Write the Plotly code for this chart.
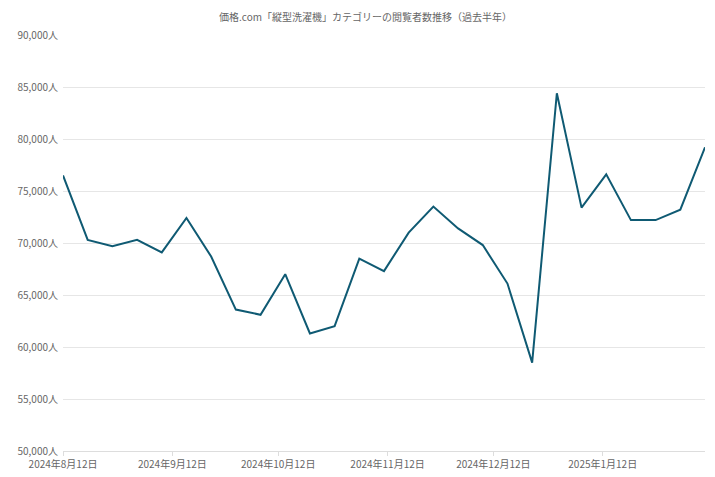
import plotly.graph_objects as go
import pandas as pd

dates = [d.strftime("%Y-%m-%d") for d in pd.date_range("2024-08-12", periods=27, freq="7D")]
values = [76500, 70300, 69700, 70300, 69100, 72400, 68700, 63600, 63100, 67000,
          61300, 62000, 68500, 67300, 71000, 73500, 71400, 69800, 66100, 58500,
          84400, 73400, 76600, 72200, 72200, 73200, 79200]
tick_dates = ["2024-08-12", "2024-09-12", "2024-10-12", "2024-11-12", "2024-12-12", "2025-01-12"]
tick_text = ["2024年8月12日", "2024年9月12日", "2024年10月12日", "2024年11月12日", "2024年12月12日", "2025年1月12日"]
y_ticks = list(range(50000, 90001, 5000))

fig = go.Figure(go.Scatter(x=dates, y=values, mode="lines",
                           line=dict(color="#0f5a73", width=2)))
fig.update_layout(
    width=715, height=477,
    title=dict(text="価格.com「縦型洗濯機」カテゴリーの閲覧者数推移（過去半年）",
               x=0.5, y=0.988, yanchor="top", font=dict(size=10, color="#666")),
    font=dict(family="Noto Sans CJK JP", color="#666", size=10),
    plot_bgcolor="white", paper_bgcolor="white",
    margin=dict(l=55, r=18, t=27, b=34),
    showlegend=False,
)
fig.update_xaxes(tickvals=tick_dates, ticktext=tick_text, showgrid=False,
                 range=[dates[0], dates[-1]], showline=True, linecolor="#ddd",
                 ticks="outside", ticklen=4, tickcolor="#ddd", automargin=False)
fig.update_yaxes(range=[50000, 90000], tickvals=y_ticks,
                 ticktext=[f"{v:,}人" for v in y_ticks], automargin=False,
                 gridcolor="#e6e6e6", zeroline=False, ticks="", ticklabelstandoff=4)
fig.write_html("out.html")
